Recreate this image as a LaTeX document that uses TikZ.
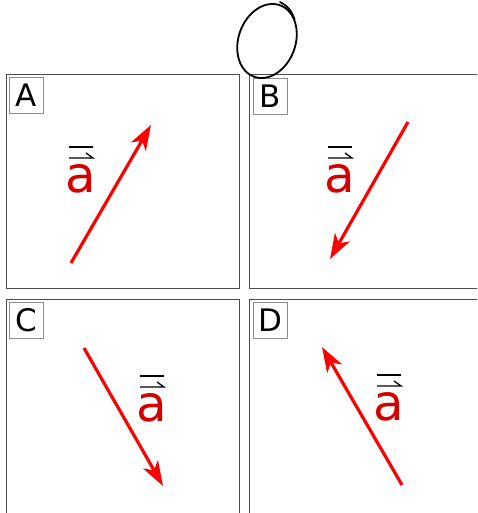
\documentclass[tikz,border=0pt]{standalone}
\usepackage{fontspec}
\setmainfont{DejaVu Sans}
\usetikzlibrary{arrows.meta,calc,shapes.geometric}
\definecolor{vred}{HTML}{FF0000}
\definecolor{tred}{HTML}{D40000}
\begin{document}
\begin{tikzpicture}[x=1pt,y=-1pt,
 panel/.style={draw=black!70,line width=1.2pt,anchor=north west,inner sep=0pt},
 tag/.style={draw=black!45,line width=1.2pt,minimum width=34pt,minimum height=36pt,inner sep=0pt,font=\fontsize{31}{31}\selectfont,anchor=north west},
 vec/.style={vred,line width=3.2pt,-{Stealth[length=25pt,width=17pt,inset=7pt]}},
 alabel/.style={tred,inner sep=0pt,font=\fontsize{50}{50}\selectfont,anchor=base},
 bar/.style={black,line width=1.3pt},
 pen/.style={black,line width=1.8pt,line cap=round}]
\useasboundingbox (0,0) rectangle (477,513);
\clip (0,0) rectangle (477,513);
% panels
\node[panel,minimum width=233pt,minimum height=214pt] (pA) at (6,74) {};
\node[panel,minimum width=240pt,minimum height=214pt] (pB) at (249,74) {};
\node[panel,minimum width=233pt,minimum height=230pt] (pC) at (6,299) {};
\node[panel,minimum width=240pt,minimum height=230pt] (pD) at (249,299) {};
% tags
\node[tag] (tA) at (9,77) {A};
\node[tag] (tB) at (253,78) {B};
\node[tag] (tC) at (9,302) {C};
\node[tag] (tD) at (253,302) {D};
% vectors
\coordinate (a0) at (71,263); \coordinate (a1) at (151,125);
\coordinate (b0) at (408,122); \coordinate (b1) at (330,259);
\coordinate (c0) at (84,348); \coordinate (c1) at (163,486);
\coordinate (d0) at (402,485); \coordinate (d1) at (322,347);
\draw[vec] (a0) -- (a1);
\draw[vec] (b0) -- (b1);
\draw[vec] (c0) -- (c1);
\draw[vec] (d0) -- (d1);
% labels
\foreach \n/\x/\y in {lA/81/192, lB/340/192, lC/152/421, lD/389/420}{
  \node[alabel] (\n) at (\x,\y) {a};
  \draw[bar] ($(\n.base)+(-12,-45)$) -- ++(24,0);
  \draw[bar] ($(\n.base)+(-12,-34)$) -- ++(24,0) -- ++(-7,-5);
}
% hand-drawn loop
\node[draw,pen,ellipse,minimum width=57pt,minimum height=76pt,inner sep=0pt,rotate=-20] (loop) at (267,41) {};
\draw[pen] plot[domain=92:50,samples=25,variable=\t]
  ({267+(28.5+0.5+2.5*(\t-50)/42)*cos(\t)*0.9397+(38+0.5+2.5*(\t-50)/42)*sin(\t)*0.3420},
   {41+(28.5+0.5+2.5*(\t-50)/42)*cos(\t)*0.3420-(38+0.5+2.5*(\t-50)/42)*sin(\t)*0.9397});
\end{tikzpicture}
\end{document}
